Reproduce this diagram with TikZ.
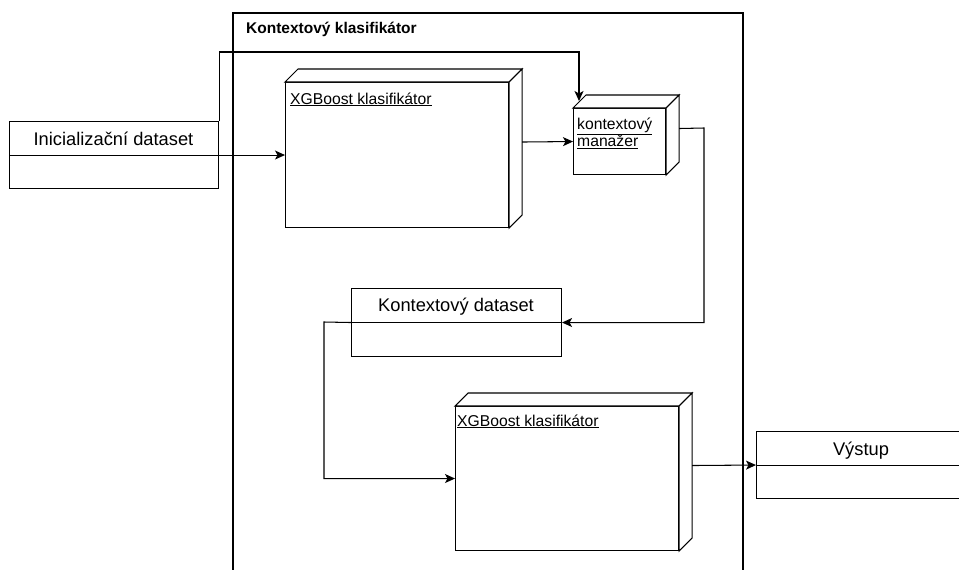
\documentclass[tikz,border=0pt]{standalone}
\usepackage{fontspec}
\setmainfont{Liberation Sans}
\usetikzlibrary{arrows.meta,calc}
\tikzset{
  ln/.style={line width=1.05pt, line join=miter},
  arr/.style={ln, -{Stealth[length=10pt,width=9pt,inset=2.5pt]}},
  face/.style={ln, draw, fill=white, inner sep=0pt, anchor=north west},
  smalltxt/.style={font=\fontsize{15.7}{17}\selectfont, inner sep=0pt},
  bigtxt/.style={font=\fontsize{18.3}{20}\selectfont, inner sep=0pt},
}
\newcommand{\cubeside}[2]{%
  \draw[ln, fill=white] (#1.north west) -- ++(#2,-#2) -- ($(#1.north east)+(#2,-#2)$) -- (#1.north east) -- cycle;
  \draw[ln, fill=white] (#1.north east) -- ++(#2,-#2) -- ($(#1.south east)+(#2,-#2)$) -- (#1.south east) -- cycle;
}
\begin{document}
\begin{tikzpicture}[x=1pt,y=-1pt]
\clip (0,0) rectangle (959,570);
\fill[white] (0,0) rectangle (959,570);
% container
\draw[ln] (233,580) -- (233,13) -- (743,13) -- (743,580);
\node[font=\bfseries\fontsize{15.5}{17}\selectfont, inner sep=0pt, anchor=base west] (title) at (246,34) {Kontextový klasifikátor};

% Inicializační dataset
\node[face, minimum width=209pt, minimum height=67pt] (init) at (9,121) {};
\draw[ln] (init.west) -- (init.east);
\node[bigtxt, anchor=base] (initlbl) at (113.5,145.5) {Inicializační dataset};

% XGBoost 1
\node[face, minimum width=223pt, minimum height=145pt] (xa) at (285,82) {};
\cubeside{xa}{13}
\node[smalltxt, anchor=base west] (xalbl) at (290,104) {\underline{XGBoost klasifikátor}};
\coordinate (xaside) at ($(xa.east)+(13,-13)$);

% kontextový manažer
\node[face, minimum width=92pt, minimum height=66pt] (mgr) at (573,108) {};
\cubeside{mgr}{13}
\node[smalltxt, anchor=base west] (mgrlbl1) at (577,129.5) {\underline{kontextový}};
\node[smalltxt, anchor=base west] (mgrlbl2) at (577,146.5) {\underline{manažer}};
\coordinate (mgrside) at ($(mgr.east)+(13,-13)$);
\coordinate (mgrtop) at (579,101);
\coordinate (turna) at (579,52);
\coordinate (turnb) at (704,128);

% Kontextový dataset
\node[face, minimum width=210pt, minimum height=68pt] (ctx) at (351,288) {};
\draw[ln] (ctx.west) -- (ctx.east);
\node[bigtxt, anchor=base] (ctxlbl) at (456,311.5) {Kontextový dataset};
\coordinate (turnc) at (324,322);

% XGBoost 2
\node[face, minimum width=223pt, minimum height=144pt] (xb) at (455,406) {};
\cubeside{xb}{13}
\node[smalltxt, anchor=base west] (xblbl) at (457,426) {\underline{XGBoost klasifikátor}};
\coordinate (xbside) at ($(xb.east)+(13,-13)$);

% Výstup
\node[face, minimum width=210pt, minimum height=67pt] (out) at (756,431) {};
\draw[ln] (out.west) -- (out.east);
\node[bigtxt, anchor=base] (outlbl) at (861,455) {Výstup};

% connectors
\draw[arr] (init.east) -- (xa.west);
\draw[arr] (init.north east) |- (turna) -- (mgrtop);
\draw[arr] (xaside) -- (mgr.west);
\draw[arr] (mgrside) -- (turnb) |- (ctx.east);
\draw[arr] (ctx.west) -- (turnc) |- (xb.west);
\draw[arr] (xbside) -- (out.west);
\end{tikzpicture}
\end{document}
